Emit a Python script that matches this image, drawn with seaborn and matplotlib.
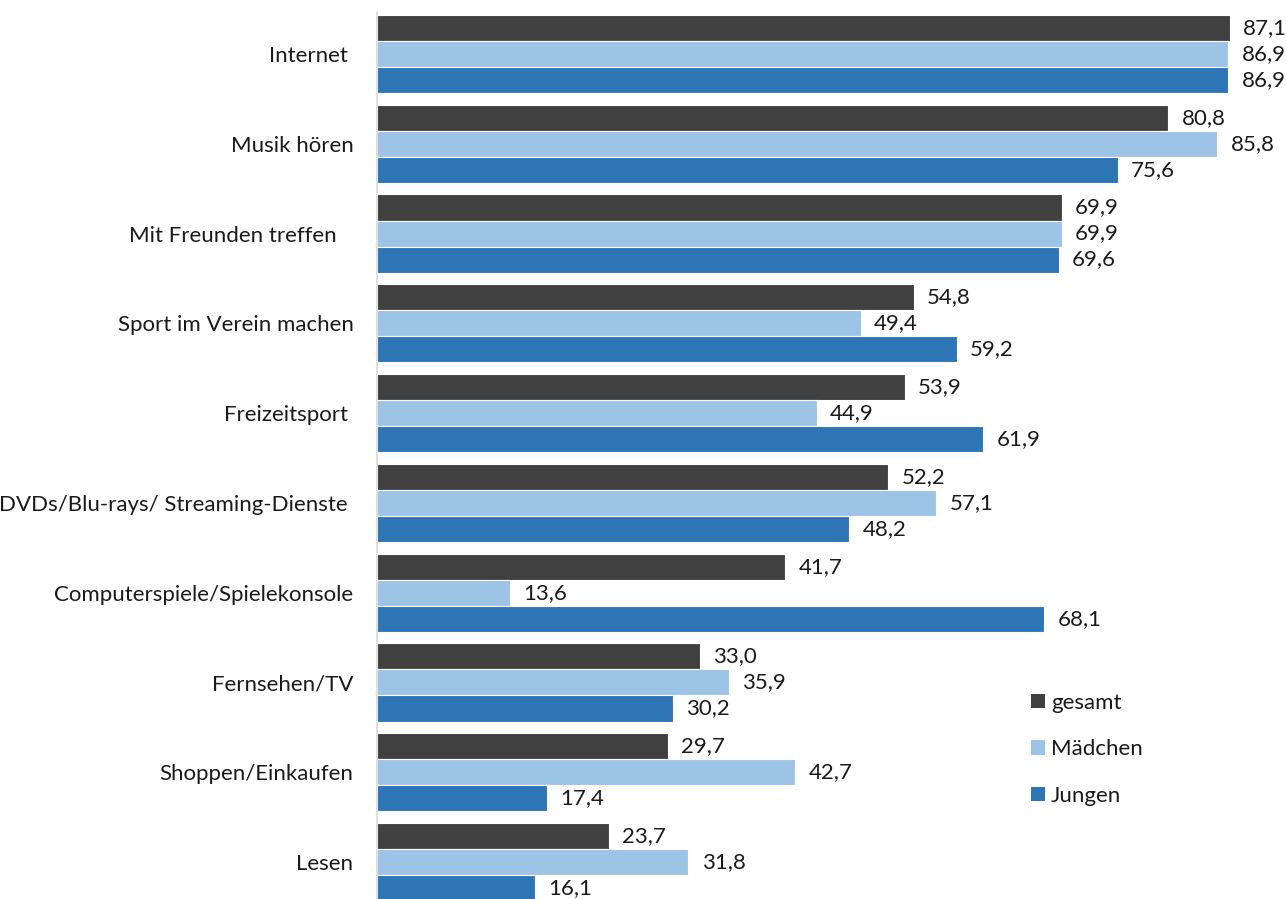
import matplotlib
matplotlib.use("Agg")
import matplotlib.pyplot as plt
import seaborn as sns
import pandas as pd
from matplotlib.patches import Patch

categories = [
    "Internet ",
    "Musik hören",
    "Mit Freunden treffen   ",
    "Sport im Verein machen",
    "Freizeitsport ",
    "DVDs/Blu-rays/ Streaming-Dienste ",
    "Computerspiele/Spielekonsole",
    "Fernsehen/TV",
    "Shoppen/Einkaufen",
    "Lesen",
]
gesamt = [87.1, 80.8, 69.9, 54.8, 53.9, 52.2, 41.7, 33.0, 29.7, 23.7]
maedchen = [86.9, 85.8, 69.9, 49.4, 44.9, 57.1, 13.6, 35.9, 42.7, 31.8]
jungen = [86.9, 75.6, 69.6, 59.2, 61.9, 48.2, 68.1, 30.2, 17.4, 16.1]
series_names = ["gesamt", "Mädchen", "Jungen"]
colors = ["#404040", "#9DC3E6", "#2E75B6"]

df = pd.DataFrame({
    "Kategorie": categories * 3,
    "Wert": gesamt + maedchen + jungen,
    "Gruppe": [s for s in series_names for _ in categories],
})

sns.set_theme(style="white")
plt.rcParams["font.family"] = ["Lato", "DejaVu Sans"]
FS = 16

fig = plt.figure(figsize=(12.86, 8.99), dpi=100)
ax = fig.add_axes([377 / 1286, 0, 1 - 377 / 1286, 1 - 12 / 899])

sns.barplot(
    data=df, y="Kategorie", x="Wert", hue="Gruppe",
    order=categories, hue_order=series_names, palette=colors,
    orient="h", width=0.87, gap=0, ax=ax, legend=False,
    edgecolor="white", linewidth=0.8, saturation=1,
)

for container in ax.containers:
    vals = [p.get_width() for p in container]
    ax.bar_label(container, labels=[f"{v:.1f}".replace(".", ",") for v in vals],
                 padding=9.5, fontsize=FS, color="#1a1a1a")

ax.set_xlim(0, 92.8)
ax.set_ylim(9 + 37 / 89.8, -42 / 89.8)
ax.set_xlabel("")
ax.set_ylabel("")
ax.set_xticks([])
ax.tick_params(axis="y", length=0, pad=17, labelsize=FS, labelcolor="#1a1a1a")

for side in ["top", "right", "bottom"]:
    ax.spines[side].set_visible(False)
ax.spines["left"].set_color("#d9d9d9")
ax.spines["left"].set_linewidth(1.2)

handles = [Patch(facecolor=c, edgecolor="none") for c in colors]
fig.legend(
    handles, series_names, loc="upper left",
    bbox_to_anchor=(1013 / 1286, 1 - 675 / 899), frameon=False,
    fontsize=FS, handlelength=0.62, handleheight=0.62, handletextpad=0.3,
    labelspacing=1.19, labelcolor="#1a1a1a", borderpad=0.3,
)

fig.savefig("out.png", dpi=100)
